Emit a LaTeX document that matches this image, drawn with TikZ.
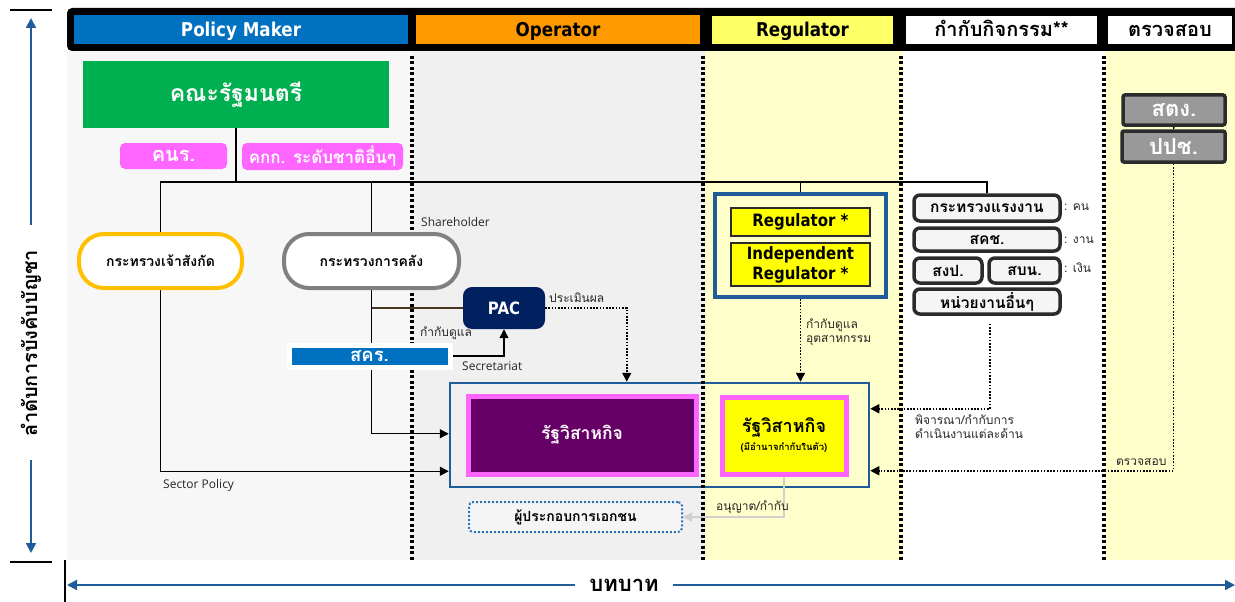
\documentclass[tikz,border=0pt]{standalone}
\usepackage{fontspec}
\setmainfont{DejaVu Sans}
\newfontfamily\thai[Script=Thai]{Loma}
\newfontfamily\hdr[FakeStretch=0.88]{DejaVu Sans}
\newfontfamily\lbl{Open Sans}
\usetikzlibrary{arrows.meta,calc}
\pgfdeclarelayer{bgl}
\pgfdeclarelayer{conn}
\pgfsetlayers{bgl,conn,main}
\definecolor{pmblue}{HTML}{0070C0}
\definecolor{oporange}{HTML}{FF9900}
\definecolor{reghdr}{HTML}{FFFF66}
\definecolor{bgpm}{HTML}{F7F7F7}
\definecolor{bgop}{HTML}{F0F0F0}
\definecolor{bgyel}{HTML}{FFFFCC}
\definecolor{cabgreen}{HTML}{00B050}
\definecolor{pinkc}{HTML}{FF66FF}
\definecolor{goldc}{HTML}{FFC000}
\definecolor{midgray}{HTML}{808080}
\definecolor{navyc}{HTML}{002060}
\definecolor{axblue}{HTML}{1F5C99}
\definecolor{purplec}{HTML}{660066}
\definecolor{yelc}{HTML}{FFFF00}
\definecolor{boxdark}{HTML}{2B2B2B}
\definecolor{audgray}{HTML}{999999}
\definecolor{actfill}{HTML}{F5F5F5}
\definecolor{privblue}{HTML}{2E75B6}
\definecolor{brownc}{HTML}{4A3520}
\definecolor{lightc}{HTML}{D0D0D0}
\tikzset{
  box/.style={inner sep=0pt, align=center},
  hcell/.style={box, text height=14pt, text depth=0pt, font=\hdr\bfseries\fontsize{19}{22}\selectfont},
  thcell/.style={box, text height=13pt, text depth=0pt, font=\thai\bfseries\fontsize{20}{23}\selectfont},
  conn/.style={line width=1.3pt, draw=black},
  arr/.style={-{Triangle[length=9pt,width=9pt]}},
  dotc/.style={line width=1.6pt, dash pattern=on 1.6pt off 1.6pt},
  sepline/.style={line width=3.5pt, dash pattern=on 3pt off 2.5pt},
  pill/.style={box, rounded corners=25pt, line width=4pt, fill=white, font=\thai\bfseries\fontsize{14}{16}\selectfont},
  actbox/.style={box, rounded corners=6pt, line width=3.5pt, draw=boxdark, fill=actfill, font=\thai\bfseries\fontsize{15.5}{17}\selectfont},
  audbox/.style={box, rounded corners=2pt, line width=3.5pt, draw=boxdark, fill=audgray, text=white, font=\thai\bfseries\fontsize{22}{24}\selectfont},
  pinkbox/.style={box, rounded corners=5pt, fill=pinkc, text=white},
  lab/.style={anchor=west, inner sep=0pt, align=left, font=\thai\fontsize{12}{14}\selectfont, text=black!85},
  elab/.style={anchor=west, inner sep=0pt, font=\lbl\fontsize{12}{14}\selectfont, text=black!85},
  regbox/.style={box, fill=yelc, draw=boxdark, line width=1.5pt, minimum width=139pt, font=\hdr\bfseries\fontsize{17}{20}\selectfont},
  axarr/.style={draw=axblue, line width=2pt, -{Triangle[length=10pt,width=10pt]}},
  tick/.style={draw=black, line width=1.2pt},
}
\begin{document}
\begin{tikzpicture}[x=1pt,y=-1pt]
\useasboundingbox (0,0) rectangle (1235,602);
% ---------- backgrounds ----------
\begin{pgfonlayer}{bgl}
\fill[bgpm] (67,51) rectangle (412,560);
\fill[bgop] (412,51) rectangle (705,560);
\fill[bgyel] (705,51) rectangle (903,560);
\fill[white] (903,51) rectangle (1105,560);
\fill[bgyel] (1105,51) rectangle (1235,560);
\node[box, draw=axblue, line width=2.5pt, minimum width=419pt, minimum height=104pt] (outer) at (659.5,435) {};
\draw[sepline] (412,56) -- (412,560);
\draw[sepline] (703,56) -- (703,560);
\draw[sepline] (901,56) -- (901,560);
\draw[sepline] (1104,56) -- (1104,560);
\fill[black, rounded corners=5pt] (67,8) rectangle (1250,51);
\end{pgfonlayer}
% ---------- header ----------
\node[hcell, fill=pmblue, text=white, minimum width=334pt, minimum height=29pt] (hpm) at (241,29.5) {Policy Maker};
\node[hcell, fill=oporange, minimum width=284pt, minimum height=29pt] (hop) at (558,29.5) {Operator};
\node[hcell, fill=reghdr, minimum width=181pt, minimum height=28pt] (hreg) at (802.5,30) {Regulator};
\node[thcell, fill=white, minimum width=191pt, minimum height=28pt] (hact) at (1001.5,30) {กำกับกิจกรรม**};
\node[thcell, fill=white, minimum width=124pt, minimum height=28pt] (haud) at (1170,30) {ตรวจสอบ};
% ---------- axes ----------
\coordinate (ltop) at (31,18);
\coordinate (lbot) at (31,553);
\coordinate (ltopst) at (31,225);
\coordinate (lbotst) at (31,460);
\coordinate (bl) at (67,585);
\coordinate (br) at (1235,585);
\node[rotate=90, inner sep=0pt, font=\thai\bfseries\fontsize{20}{23}\selectfont] (hier) at (31,343) {ลำดับการบังคับบัญชา};
\draw[axarr] (ltopst) -- (ltop);
\draw[axarr] (lbotst) -- (lbot);
\draw[tick] (10,10) -- (52,10);
\draw[tick] (10,562) -- (52,562);
\draw[tick] (65,560) -- (65,602);
\node[inner sep=0pt, font=\thai\bfseries\fontsize{22}{25}\selectfont] (role) at (624,585) {บทบาท};
\draw[axarr] ($(role.west)+(-14,0)$) -- (bl);
\draw[axarr] ($(role.east)+(14,0)$) -- (br);
% ---------- policy maker ----------
\node[box, fill=cabgreen, text=white, minimum width=306pt, minimum height=67pt, font=\thai\bfseries\fontsize{23}{26}\selectfont] (cab) at (236,94.5) {คณะรัฐมนตรี};
\node[pinkbox, minimum width=107pt, minimum height=26pt, font=\thai\bfseries\fontsize{20}{22}\selectfont] (knr) at (173.5,156) {คนร.};
\node[pinkbox, minimum width=161pt, minimum height=27pt, font=\thai\bfseries\fontsize{17}{20}\selectfont] (kkk) at (322.5,156.5) {คกก. ระดับชาติอื่นๆ};
\node[pill, draw=goldc, minimum width=163pt, minimum height=54pt] (minA) at (160.5,261) {กระทรวงเจ้าสังกัด};
\node[pill, draw=midgray, minimum width=175pt, minimum height=54pt] (minF) at (371.5,261) {กระทรวงการคลัง};
\node[box, fill=pmblue, draw=white, line width=5pt, text=white, minimum width=161pt, minimum height=22pt, font=\thai\bfseries\fontsize{18.5}{21}\selectfont] (skr) at (369.5,356) {สคร.};
\node[elab] (lsector) at (163,485) {Sector Policy};
% ---------- operator ----------
\node[box, fill=navyc, text=white, rounded corners=9pt, minimum width=82pt, minimum height=42pt, font=\hdr\bfseries\fontsize{17}{20}\selectfont] (pac) at (504,308) {PAC};
\node[elab] (lshare) at (421,222) {Shareholder};
\node[lab] (lkam) at (420,333) {กำกับดูแล};
\node[elab] (lsec) at (462,366) {Secretariat};
\node[lab] (leval) at (549,298) {ประเมินผล};
\node[box, fill=purplec, draw=pinkc, line width=5pt, text=white, minimum width=228pt, minimum height=78pt, font=\thai\bfseries\fontsize{17.5}{20}\selectfont] (sep) at (582,435) {รัฐวิสาหกิจ};
\node[box, fill=actfill, draw=privblue, line width=2pt, dash pattern=on 2pt off 2pt, rounded corners=4pt, minimum width=213pt, minimum height=30pt, font=\thai\bfseries\fontsize{14}{16}\selectfont] (priv) at (575.5,517) {ผู้ประกอบการเอกชน};
% ---------- regulator ----------
\node[box, fill=bgyel, draw=axblue, line width=4pt, minimum width=171pt, minimum height=103pt] (regc) at (800.5,245.5) {};
\node[regbox, minimum height=28pt] (reg1) at (800.5,222) {Regulator *};
\node[regbox, minimum height=43pt] (reg2) at (800.5,264.5) {Independent\\Regulator *};
\node[lab] (lind) at (806,332) {กำกับดูแล\\อุตสาหกรรม};
\node[box, fill=yelc, draw=pinkc, line width=5pt, minimum width=124pt, minimum height=77pt, font=\thai\bfseries\fontsize{18}{21}\selectfont] (sey) at (784,435.5) {รัฐวิสาหกิจ\\[-3pt]{\fontsize{9.5}{11}\selectfont(มีอำนาจกำกับในตัว)}};
\node[lab] (llic) at (716,507) {อนุญาต/กำกับ};
% ---------- activity ----------
\node[actbox, minimum width=146pt, minimum height=26pt] (labor) at (987,208) {กระทรวงแรงงาน};
\node[actbox, minimum width=146pt, minimum height=23pt] (skch) at (987,239.5) {สคช.};
\node[actbox, minimum width=68pt, minimum height=25pt] (sgp) at (948,270.5) {สงป.};
\node[actbox, minimum width=71pt, minimum height=25pt] (sbn) at (1024.5,270.5) {สบน.};
\node[actbox, minimum width=146pt, minimum height=25pt] (other) at (987,301.5) {หน่วยงานอื่นๆ};
\node[lab] (lman) at (1064,207) {: คน};
\node[lab] (lwork) at (1064,240) {: งาน};
\node[lab] (lmoney) at (1064,268) {: เงิน};
\node[lab] (lcons) at (915,427) {พิจารณา/กำกับการ\\ดำเนินงานแต่ละด้าน};
% ---------- audit ----------
\node[audbox, minimum width=102pt, minimum height=30pt] (stg) at (1174,110) {สตง.};
\node[audbox, minimum width=103pt, minimum height=31pt] (ppc) at (1173.5,146.5) {ปปช.};
\node[lab] (laud) at (1116,462) {ตรวจสอบ};
% ---------- connectors ----------
\coordinate (bus) at (236,182);
\begin{pgfonlayer}{conn}
\draw[conn] (cab.south) -- (cab.south |- bus);
\draw[conn] (minA.north) -- (minA.north |- bus) -- (labor.north |- bus) -- (labor.north);
\draw[conn] (minF.north) -- (minF.north |- bus);
\draw[conn] (reg1.north) -- (reg1.north |- bus);
\draw[conn,arr] (minA.south) |- ($(outer.south west)+(0,-17)$);
\draw[conn,arr] (minF.south) |- ($(outer.north west)+(0,52)$);
\draw[conn, draw=brownc] (minF.south |- pac.west) -- (pac.west);
\draw[conn,arr] (skr.east) -| (pac.south);
\draw[dotc,arr] (pac.east) -| ($(outer.north west)+(178,0)$);
\draw[dotc,arr] (regc.south) -- (regc.south |- outer.north);
\draw[dotc,arr] ($(other.south)+(3,8)$) |- ($(outer.north east)+(0,27)$);
\draw[conn] (stg.south) -- (ppc.north);
\draw[dotc,arr] (ppc.south) |- ($(outer.north east)+(0,89)$);
\draw[line width=1.5pt, draw=lightc, -{Triangle[length=9pt,width=9pt]}] (sey.south) |- (priv.east);
\end{pgfonlayer}
\end{tikzpicture}
\end{document}
